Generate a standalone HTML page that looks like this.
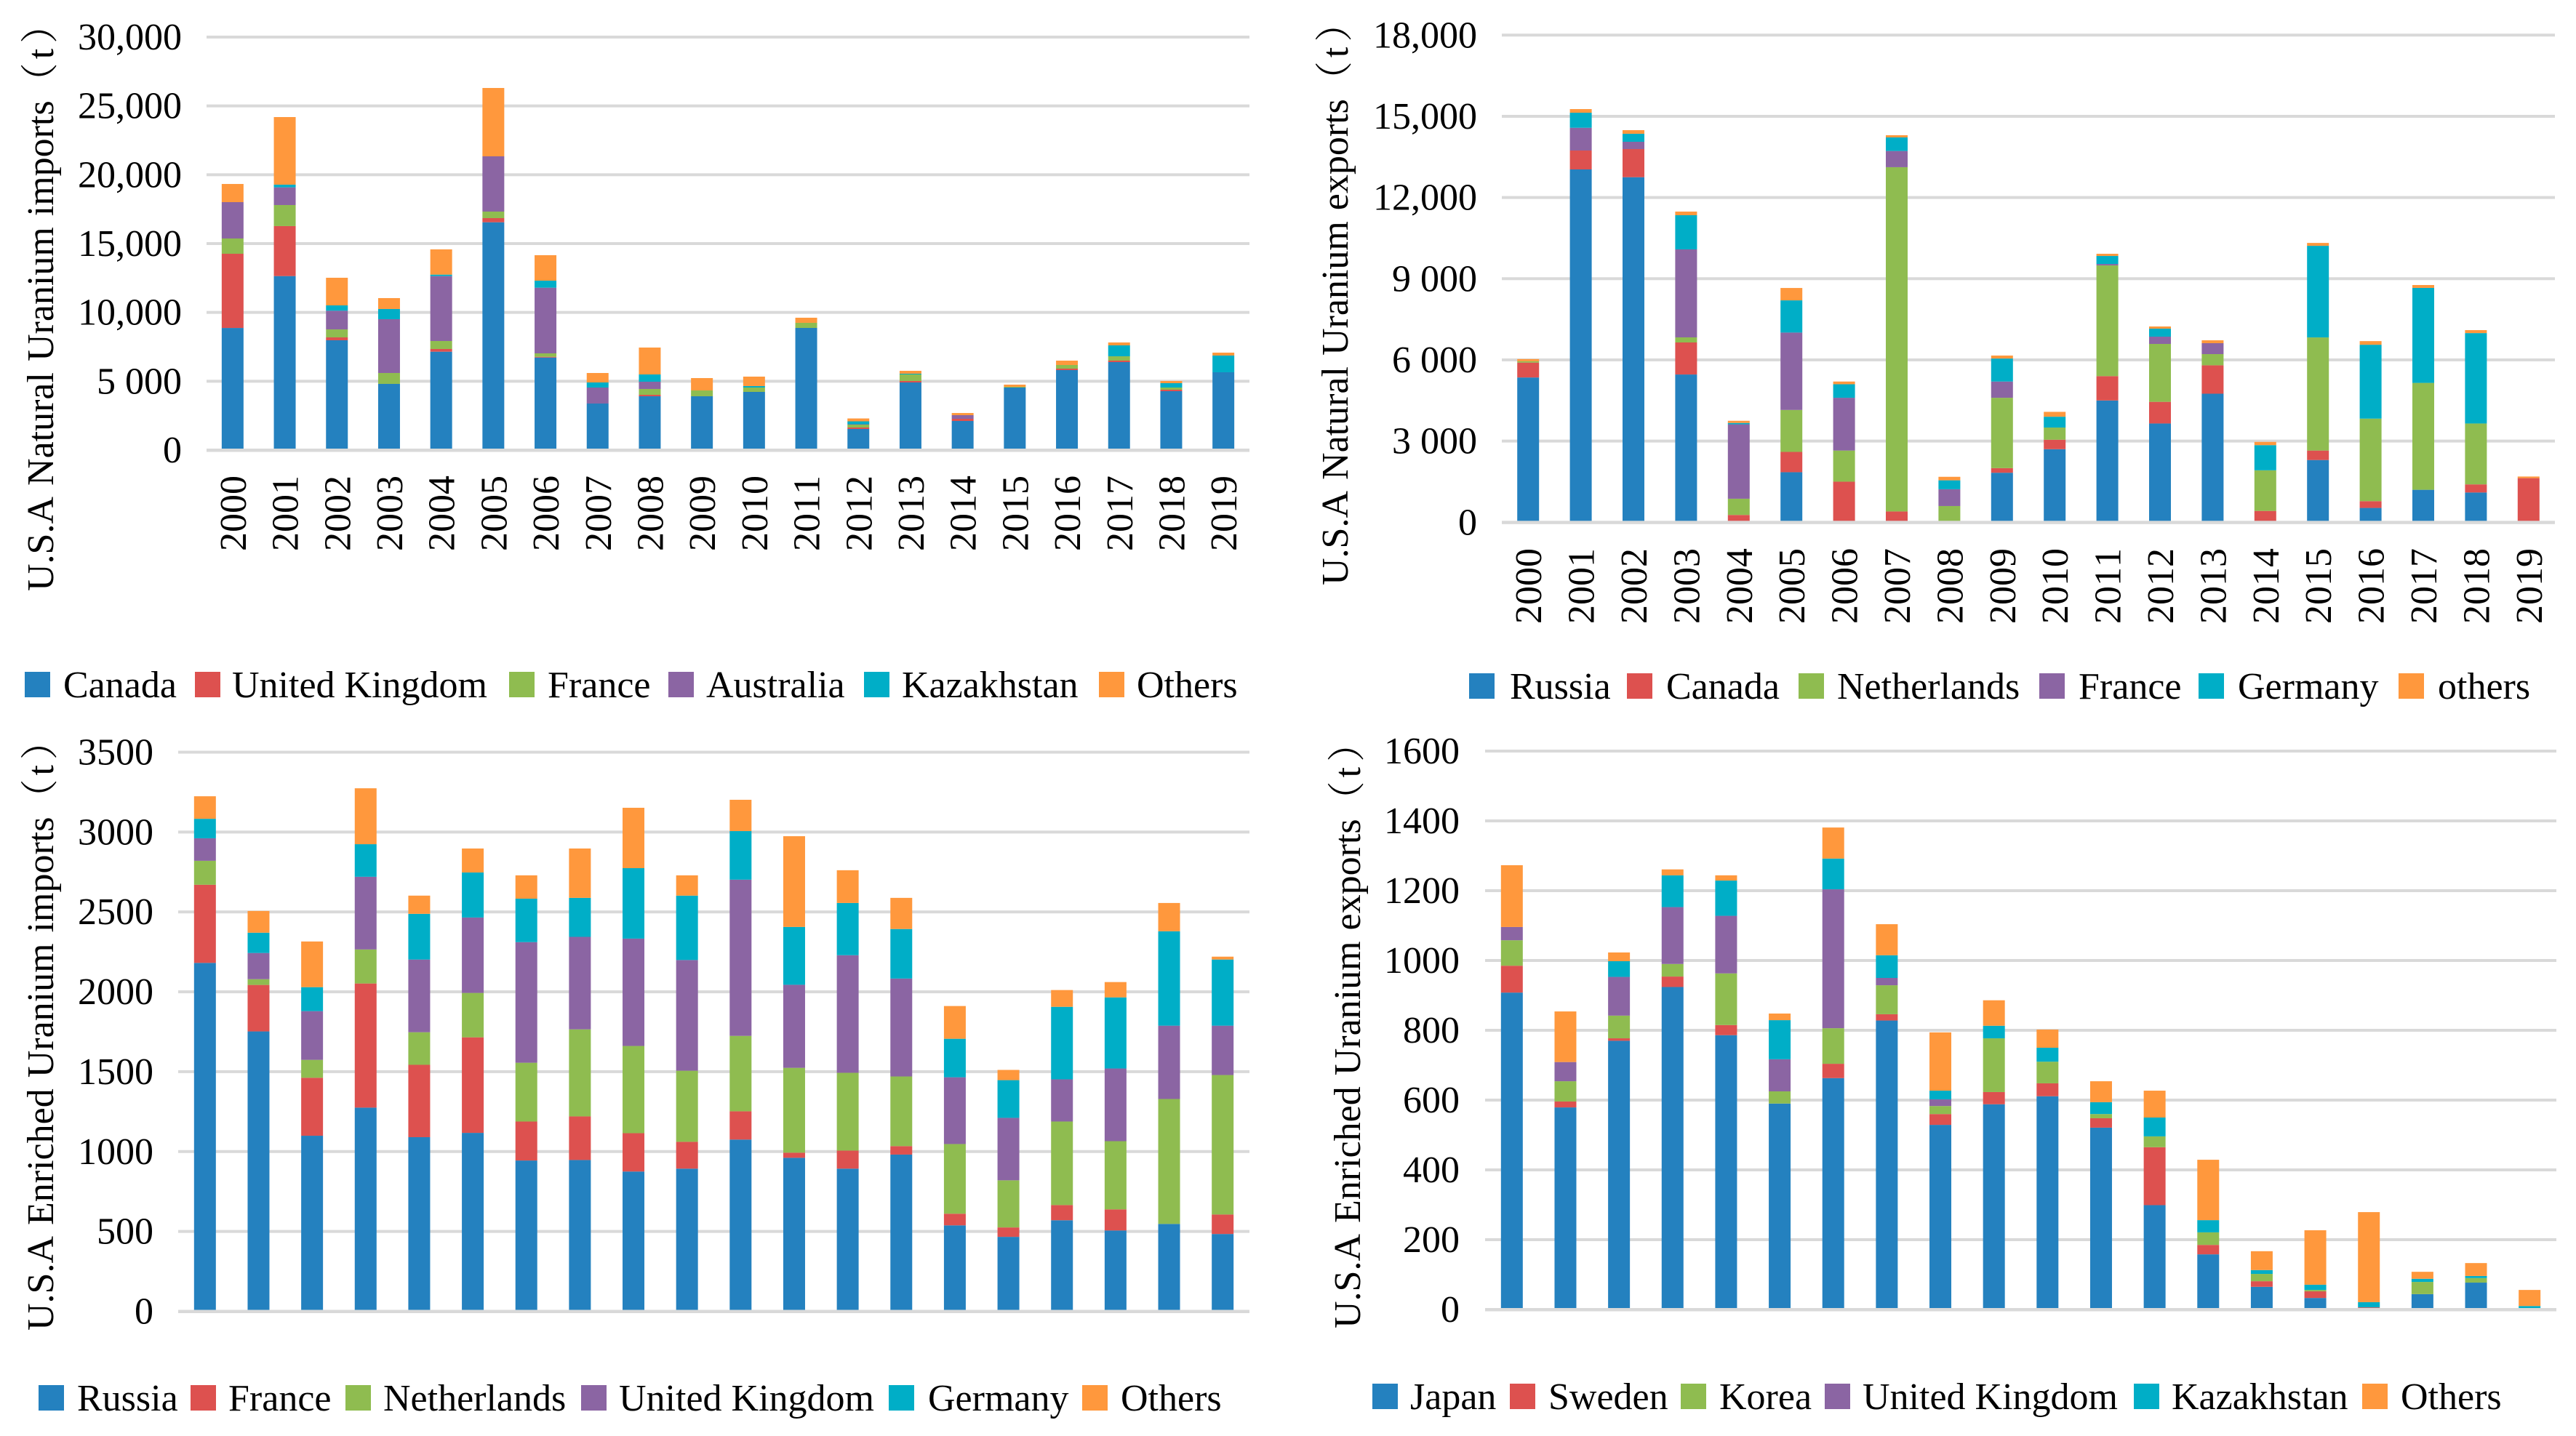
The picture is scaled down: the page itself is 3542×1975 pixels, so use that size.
<!DOCTYPE html>
<html lang="en">
<head>
<meta charset="utf-8">
<title>U.S.A uranium imports and exports, 2000-2019</title>
<style>
  html, body { margin: 0; padding: 0; background: #fff; }
  svg { display: block; }
  text { font-family: "Liberation Serif", "Noto Serif CJK SC", serif; font-size: 52px; fill: #000; font-kerning: none; }
</style>
</head>
<body>
<svg id="chart" xmlns="http://www.w3.org/2000/svg" width="3542" height="1975" viewBox="0 0 3542 1975">
  <rect x="0" y="0" width="3542" height="1975" fill="#ffffff"/>

  <g id="panel-natural-imports">
    <text transform="translate(73,813) rotate(-90)" style="word-spacing:2px">U.S.A Natural Uranium imports（<tspan dx="5">t</tspan><tspan dx="7">）</tspan></text>
    <g>
      <rect x="34" y="924" width="35" height="35" fill="#2481BF"/>
      <text x="87" y="959">Canada</text>
      <rect x="268" y="924" width="35" height="35" fill="#DD514F"/>
      <text x="319" y="959">United Kingdom</text>
      <rect x="700" y="924" width="35" height="35" fill="#8FBC50"/>
      <text x="753" y="959">France</text>
      <rect x="919" y="924" width="35" height="35" fill="#8B65A3"/>
      <text x="971" y="959">Australia</text>
      <rect x="1188" y="924" width="35" height="35" fill="#00AEC7"/>
      <text x="1240" y="959">Kazakhstan</text>
      <rect x="1511" y="924" width="35" height="35" fill="#FF983D"/>
      <text x="1563" y="959">Others</text>
    </g>
  </g>

  <g id="panel-natural-exports">
    <text transform="translate(1853,805) rotate(-90)" style="word-spacing:2px">U.S.A Natural Uranium exports（<tspan dx="5">t</tspan><tspan dx="7">）</tspan></text>
    <g>
      <rect x="2020" y="926" width="35" height="35" fill="#2481BF"/>
      <text x="2076" y="961">Russia</text>
      <rect x="2237" y="926" width="35" height="35" fill="#DD514F"/>
      <text x="2291" y="961">Canada</text>
      <rect x="2473" y="926" width="35" height="35" fill="#8FBC50"/>
      <text x="2526" y="961">Netherlands</text>
      <rect x="2804" y="926" width="35" height="35" fill="#8B65A3"/>
      <text x="2858" y="961">France</text>
      <rect x="3023" y="926" width="35" height="35" fill="#00AEC7"/>
      <text x="3077" y="961">Germany</text>
      <rect x="3298" y="926" width="35" height="35" fill="#FF983D"/>
      <text x="3352" y="961">others</text>
    </g>
  </g>

  <g id="panel-enriched-imports">
    <text transform="translate(73,1830) rotate(-90)" style="word-spacing:2px">U.S.A Enriched Uranium imports（<tspan dx="5">t</tspan><tspan dx="7">）</tspan></text>
    <g>
      <rect x="53" y="1905" width="35" height="35" fill="#2481BF"/>
      <text x="106" y="1940">Russia</text>
      <rect x="262" y="1905" width="35" height="35" fill="#DD514F"/>
      <text x="314" y="1940">France</text>
      <rect x="475" y="1905" width="35" height="35" fill="#8FBC50"/>
      <text x="527" y="1940">Netherlands</text>
      <rect x="799" y="1905" width="35" height="35" fill="#8B65A3"/>
      <text x="851" y="1940">United Kingdom</text>
      <rect x="1222" y="1905" width="35" height="35" fill="#00AEC7"/>
      <text x="1276" y="1940">Germany</text>
      <rect x="1488" y="1905" width="35" height="35" fill="#FF983D"/>
      <text x="1541" y="1940">Others</text>
    </g>
  </g>

  <g id="panel-enriched-exports">
    <text transform="translate(1870,1827) rotate(-90)" style="word-spacing:2px">U.S.A Enriched Uranium exports（<tspan dx="5">t</tspan><tspan dx="7">）</tspan></text>
    <g>
      <rect x="1887" y="1903" width="35" height="35" fill="#2481BF"/>
      <text x="1939" y="1938">Japan</text>
      <rect x="2076" y="1903" width="35" height="35" fill="#DD514F"/>
      <text x="2129" y="1938">Sweden</text>
      <rect x="2311" y="1903" width="35" height="35" fill="#8FBC50"/>
      <text x="2364" y="1938">Korea</text>
      <rect x="2509" y="1903" width="35" height="35" fill="#8B65A3"/>
      <text x="2561" y="1938">United Kingdom</text>
      <rect x="2934" y="1903" width="35" height="35" fill="#00AEC7"/>
      <text x="2986" y="1938">Kazakhstan</text>
      <rect x="3248" y="1903" width="35" height="35" fill="#FF983D"/>
      <text x="3301" y="1938">Others</text>
    </g>
  </g>
</svg>

<script>
// Shared categories and stack colours
const years = ["2000","2001","2002","2003","2004","2005","2006","2007","2008","2009","2010","2011","2012","2013","2014","2015","2016","2017","2018","2019"];

// Natural uranium imports (t)
const niTickValues = [0, 5000, 10000, 15000, 20000, 25000, 30000];
const niTickLabels = ["0", "5 000", "10,000", "15,000", "20,000", "25,000", "30,000"];
const niCanada     = [8870,12640,7976,4807,7147,16548,6724,3380,3909,3909,4226,8874,1532,4912,2113,4543,5810,6391,4278,5652];
const niUK         = [5390,3630,210,0,195,301,53,0,106,0,0,0,106,106,158,0,106,106,106,0];
const niFrance     = [1110,1530,580,792,581,475,248,0,423,423,317,370,211,475,0,53,264,317,158,0];
const niAustralia  = [2640,1285,1357,3909,4717,4014,4770,1162,528,0,0,0,26,0,264,0,0,0,0,0];
const niKazakhstan = [0,195,387,740,106,0,512,370,528,0,106,0,211,53,0,0,0,792,317,1215];
const niOthers     = [1320,4910,2007,792,1833,4965,1849,687,1954,898,687,370,211,211,158,158,317,211,158,211];

// Natural uranium exports (t)
const neTickValues = [0, 3000, 6000, 9000, 12000, 15000, 18000];
const neTickLabels = ["0", "3 000", "6 000", "9 000", "12,000", "15,000", "18,000"];
const neRussia      = [5350,13038,12750,5460,0,1850,0,0,0,1830,2700,4500,3650,4750,0,2300,530,1200,1100,0];
const neCanada      = [550,698,1040,1184,270,750,1500,400,20,170,350,900,800,1050,420,350,250,0,300,1630];
const neNetherlands = [50,0,0,188,600,1550,1150,12720,580,2600,450,4090,2140,414,1500,4180,3050,3950,2250,0];
const neFrance      = [0,841,269,3251,2750,2860,1950,599,620,600,0,54,268,403,0,0,0,0,0,0];
const neGermany     = [0,556,296,1263,50,1190,500,502,330,850,400,296,296,0,930,3385,2730,3510,3340,0];
const neOthers      = [80,134,134,134,80,457,100,81,130,110,180,81,81,107,120,107,134,106,110,60];

// Enriched uranium imports (t)
const eiTickValues = [0, 500, 1000, 1500, 2000, 2500, 3000, 3500];
const eiTickLabels = ["0", "500", "1000", "1500", "2000", "2500", "3000", "3500"];
const eiRussia      = [2181,1752,1099,1275,1090,1117,944,947,875,893,1075,961,893,981,538,466,570,506,547,484];
const eiFrance      = [489,291,363,777,453,598,244,273,240,168,177,32,113,53,73,59,95,132,0,122];
const eiNetherlands = [150,36,112,213,204,278,368,545,546,445,472,531,487,436,436,295,523,427,782,873];
const eiUK          = [141,164,305,455,455,472,755,579,672,693,978,520,736,613,418,391,264,455,459,309];
const eiGermany     = [122,127,150,204,286,282,272,244,441,403,304,362,327,310,241,236,454,445,591,414];
const eiOthers      = [141,136,286,350,114,150,146,309,378,127,196,568,205,195,205,64,105,96,177,18];

// Enriched uranium exports (t)
const eeTickValues = [0, 200, 400, 600, 800, 1000, 1200, 1400, 1600];
const eeTickLabels = ["0", "200", "400", "600", "800", "1000", "1200", "1400", "1600"];
const eeJapan      = [908,579,770,924,786,590,663,828,529,588,611,521,299,158,65,33,2,44,77,0];
const eeSweden     = [77,17,7,30,29,0,41,18,31,35,37,27,166,27,16,19,4,0,0,0];
const eeKorea      = [73,58,65,36,148,35,102,83,23,154,62,12,31,36,21,4,0,35,13,0];
const eeUK         = [38,55,111,163,165,92,398,21,19,0,0,0,0,0,0,0,0,0,0,0];
const eeKazakhstan = [0,0,45,91,101,112,88,65,25,36,40,34,54,35,11,15,15,9,6,10];
const eeOthers     = [177,145,25,17,15,19,89,89,167,73,52,60,77,173,54,156,258,20,37,46];

const stackColors = ["#2481BF", "#DD514F", "#8FBC50", "#8B65A3", "#00AEC7", "#FF983D"];
const SVG_NS = "http://www.w3.org/2000/svg";

function makeEl(tag, parent) {
  const el = document.createElementNS(SVG_NS, tag);
  parent.appendChild(el);
  return el;
}

function drawPanel(cfg) {
  const host = document.getElementById(cfg.id);
  const tickMax = cfg.tickValues[cfg.tickValues.length - 1];
  const yScale = function (v) { return cfg.yZero - (v / tickMax) * (cfg.yZero - cfg.yTop); };
  const band = (cfg.right - cfg.left) / cfg.categories.length;
  const xCenter = function (i) { return cfg.left + band * (i + 0.5); };
  const barWidth = 30;

  // Horizontal grid lines and y tick labels
  cfg.tickValues.forEach(function (t, i) {
    if (t !== 0) {
      const line = makeEl("rect", host);
      
      
      line.setAttribute("x", cfg.left);
      line.setAttribute("y", yScale(t) - 2);
      line.setAttribute("width", cfg.right - cfg.left);
      line.setAttribute("height", 4);
      line.setAttribute("fill", "#D9D9D9");
    }
    const label = makeEl("text", host);
    
    
    label.setAttribute("x", cfg.tickRight);
    label.setAttribute("y", yScale(t) + 17);
    label.setAttribute("text-anchor", "end");
    label.textContent = cfg.tickLabels[i];
  });

  // Stacked bars
  cfg.categories.forEach(function (cat, i) {
    let base = 0;
    cfg.series.forEach(function (values, s) {
      const v = values[i];
      if (v <= 0) { return; }
      const top = yScale(base + v);
      const bar = makeEl("rect", host);
      
      
      bar.setAttribute("x", xCenter(i) - barWidth / 2);
      bar.setAttribute("y", top);
      bar.setAttribute("width", barWidth);
      bar.setAttribute("height", yScale(base) - top);
      bar.setAttribute("fill", stackColors[s]);
      base += v;
    });
  });

  // Baseline sits on top of the bars
  const axis = makeEl("rect", host);
  
  
  axis.setAttribute("x", cfg.left);
  axis.setAttribute("y", cfg.yZero - 2);
  axis.setAttribute("width", cfg.right - cfg.left);
  axis.setAttribute("height", 4.5);
  axis.setAttribute("fill", "#D9D9D9");

  // Rotated year labels (upper panels only)
  if (cfg.catTop) {
    cfg.categories.forEach(function (cat, i) {
      const label = makeEl("text", host);
      
      
      label.setAttribute("text-anchor", "end");
      label.setAttribute("transform", "translate(" + (xCenter(i) + 18) + "," + cfg.catTop + ") rotate(-90)");
      label.textContent = cat;
    });
  }
}

drawPanel({ id: "panel-natural-imports", left: 284, right: 1718, yZero: 619, yTop: 51, tickRight: 250, catTop: 654,
  categories: years, tickValues: niTickValues, tickLabels: niTickLabels,
  series: [niCanada, niUK, niFrance, niAustralia, niKazakhstan, niOthers] });

drawPanel({ id: "panel-natural-exports", left: 2065, right: 3513, yZero: 718.3, yTop: 48.3, tickRight: 2031, catTop: 754,
  categories: years, tickValues: neTickValues, tickLabels: neTickLabels,
  series: [neRussia, neCanada, neNetherlands, neFrance, neGermany, neOthers] });

drawPanel({ id: "panel-enriched-imports", left: 245, right: 1718, yZero: 1803.5, yTop: 1034.5, tickRight: 211, catTop: 0,
  categories: years, tickValues: eiTickValues, tickLabels: eiTickLabels,
  series: [eiRussia, eiFrance, eiNetherlands, eiUK, eiGermany, eiOthers] });

drawPanel({ id: "panel-enriched-exports", left: 2042, right: 3515, yZero: 1801, yTop: 1033, tickRight: 2007, catTop: 0,
  categories: years, tickValues: eeTickValues, tickLabels: eeTickLabels,
  series: [eeJapan, eeSweden, eeKorea, eeUK, eeKazakhstan, eeOthers] });
</script>
</body>
</html>
